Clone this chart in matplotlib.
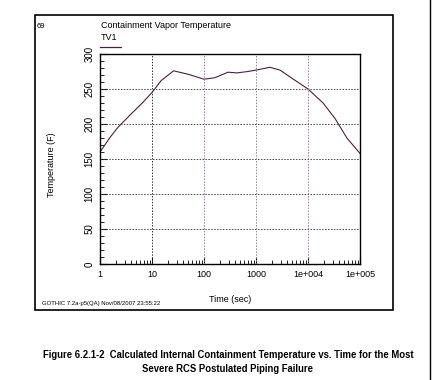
import matplotlib.pyplot as plt
from matplotlib.patches import Rectangle
from matplotlib.lines import Line2D
from matplotlib.ticker import LogLocator, NullFormatter, MultipleLocator

# TV1 containment vapor temperature
time_s = [1, 1.6, 2.2, 3.8, 6.5, 10, 15, 26, 50, 100, 160, 290, 430, 700, 1000, 1850, 2900, 5000, 10000, 19500, 33000, 56000, 100000]
temp_f = [160, 182, 195, 213, 230, 245, 262, 276, 271, 264, 266, 274, 273, 275, 277, 281, 277, 265, 250, 230, 208, 180, 158]

yticks = [0, 50, 100, 150, 200, 250, 300]
xticks = [1, 10, 100, 1000, 10000, 100000]
xticklabels = ["1", "10", "100", "1000", "1e+004", "1e+005"]

plt.rcParams['font.family'] = ['Liberation Sans', 'DejaVu Sans']

fig = plt.figure(figsize=(4.32, 3.8), dpi=100)
W, H = 432, 380

def fx(px):
    return px / W

def fy(py):
    return 1 - py / H

# outer frame of the GOTHIC plot
fig.patches.append(Rectangle((fx(35), fy(310)), fx(393) - fx(35), fy(15) - fy(310),
                             transform=fig.transFigure, fill=False, lw=1.2, ec='black'))
fig.lines.append(Line2D([fx(430), fx(430)], [fy(0), fy(380)], transform=fig.transFigure,
                        color='black', lw=1.0))

ax = fig.add_axes([fx(100), fy(264), fx(360) - fx(100), fy(54) - fy(264)])
ax.plot(time_s, temp_f, color='#4a2040', lw=0.8)
ax.set_xscale('log')
ax.set_xlim(1, 100000)
ax.set_ylim(0, 300)

ax.set_xticks(xticks)
ax.set_xticklabels(xticklabels, fontsize=6.5)
ax.xaxis.set_minor_locator(LogLocator(base=10, subs=range(2, 10)))
ax.xaxis.set_minor_formatter(NullFormatter())
ax.set_yticks(yticks)
ax.set_yticklabels([str(v) for v in yticks], fontsize=7, rotation=90, va='center')
ax.yaxis.set_minor_locator(MultipleLocator(10))
ax.tick_params(which='both', direction='in', top=False, right=False)
ax.tick_params(which='major', length=5, width=0.8, pad=4)
ax.tick_params(which='minor', length=3, width=0.6)

for v in [50, 100, 150, 200, 250]:
    ax.axhline(v, color='#444444', lw=0.7, ls=(0, (1.5, 1.5)))
for v, c in zip([10, 100, 1000, 10000], ['#333333', '#b070b0', '#888888', '#b070b0']):
    ax.axvline(v, color=c, lw=0.7, ls=(0, (1.5, 1.5)))
for s in ax.spines.values():
    s.set_linewidth(1.0)

ax.set_xlabel("Time (sec)", fontsize=6.5, labelpad=12)
fig.text(fx(52), fy(165), "Temperature (F)", rotation=90, fontsize=6.5, ha='center', va='center')

fig.text(fx(37), fy(26), "69", fontsize=5.5, va='center')
fig.text(fx(101), fy(25), "Containment Vapor Temperature", fontsize=6.5, va='center')
fig.text(fx(101), fy(38), "TV1", fontsize=6.5, va='center')
fig.lines.append(Line2D([fx(100), fx(121)], [fy(47), fy(47)], transform=fig.transFigure,
                        color='#4a2040', lw=0.9))
fig.text(fx(42), fy(304), "GOTHIC 7.2a-p5(QA) Nov/08/2007 23:55:22", fontsize=4.3, va='center')

fig.text(fx(228), fy(355), "Figure 6.2.1-2  Calculated Internal Containment Temperature vs. Time for the Most",
         fontsize=6.85, fontweight='bold', ha='center', va='center')
fig.text(fx(228), fy(369), "Severe RCS Postulated Piping Failure",
         fontsize=6.85, fontweight='bold', ha='center', va='center')

fig.savefig("out.png", dpi=100)
